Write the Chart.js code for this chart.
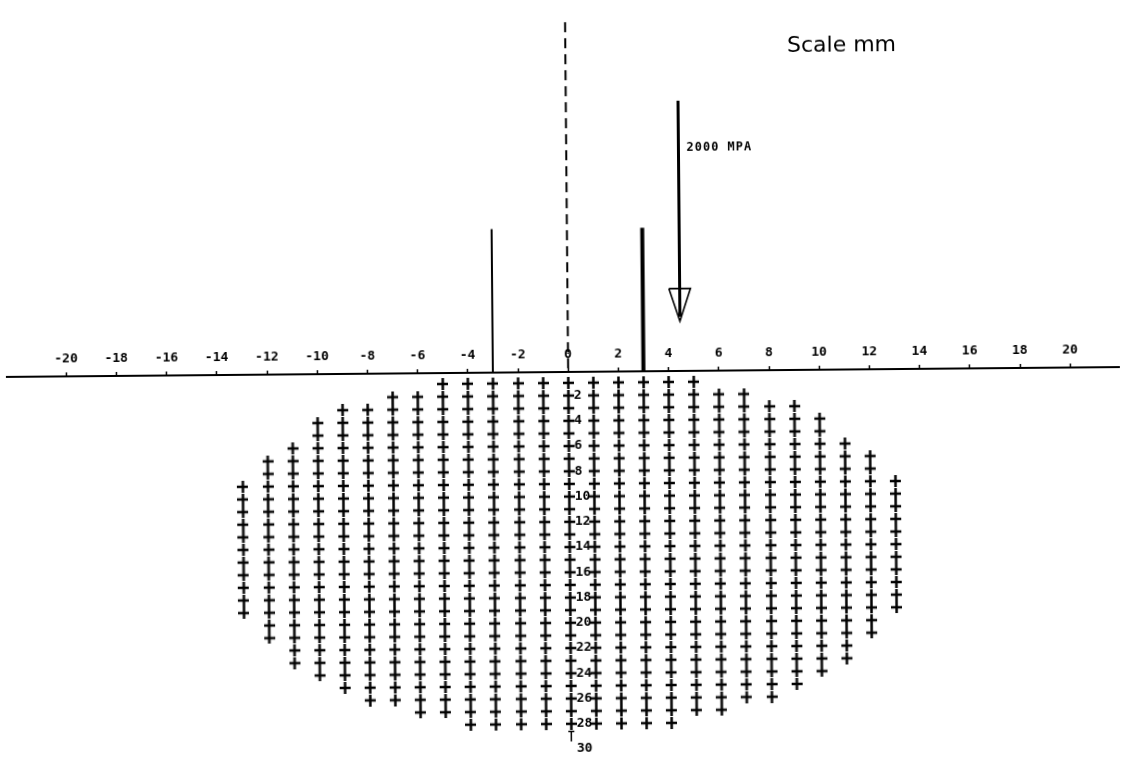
<!DOCTYPE html>
<html>
<head>
<meta charset="utf-8">
<title>Scale mm</title>
<script src="https://cdn.jsdelivr.net/npm/chart.js@4.4.1/dist/chart.umd.min.js"></script>
<style>
  html, body { margin: 0; padding: 0; background: #fff; overflow: hidden; }
  #wrap {
    width: 1126px; height: 766px; position: relative; background: #fff;
    /* the plotted sheet sits slightly skewed */
    transform: rotate(-0.507deg); transform-origin: 563px 383px;
  }
</style>
</head>
<body>
<div id="wrap"><canvas id="chart"></canvas></div>
<script>
// Horizontal position of each grid column (mm from the centre line)
const columns  = [-13,-12,-11,-10,-9,-8,-7,-6,-5,-4,-3,-2,-1,0,1,2,3,4,5,6,7,8,9,10,11,12,13];
// First and last depth row carrying a cross in each column
const firstRow = [9,7,6,4,3,3,2,2,1, 1,1,1,1,1,1,1,1,1, 1,2,2,3,3,4,6,7,9];
const lastRow  = [19,21,23,24,25,26,26,27,27, 28,28,28,28,28,28,28,28,28, 27,27,26,26,25,24,23,21,19];

// Axis tick labels
const xTickValues     = [-20,-18,-16,-14,-12,-10,-8,-6,-4,-2,0,2,4,6,8,10,12,14,16,18,20];
const depthTickValues = [2,4,6,8,10,12,14,16,18,20,22,24,26,28,30];

// Load lines above the surface (position in mm, height in MPa)
const loadLineX   = [-3, 3];
const loadLineMPa = [1300, 1300];
const loadLineWidth = [2, 4];
// Centre line and the 2000 MPa scale arrow
const centreLineTop = 3170;
const arrowX = 4.47;
const arrowFromMPa = 2450;
const arrowToMPa = 450;
const arrowLabel = '2000 MPA';
const scaleTitle = 'Scale mm';

// Axis ranges spanning the drawing sheet
const X_MIN = -22.36, X_MAX = 21.94;
const DEPTH_MIN = -28.71, DEPTH_MAX = 30.72;
const MPA_MIN = -3505, MPA_MAX = 3301;

// Plus-sign marker
function plusMark(w, h, lw) {
  const c = document.createElement('canvas');
  c.width = w; c.height = h;
  const g = c.getContext('2d');
  g.fillStyle = '#000';
  g.fillRect((w - lw) / 2, 0, lw, h);
  g.fillRect(0, (h - lw) / 2, w, lw);
  return c;
}

const gridPoints = [];
columns.forEach((x, i) => {
  for (let r = firstRow[i]; r <= lastRow[i]; r++) gridPoints.push({ x: x, y: r });
});

function segment(x, y0, y1) { return [{ x: x, y: y0 }, { x: x, y: y1 }]; }

const headLen = 295, headHalf = 0.43;
const arrowHead = [
  { x: arrowX - headHalf, y: arrowToMPa + headLen },
  { x: arrowX + headHalf, y: arrowToMPa + headLen },
  { x: arrowX, y: arrowToMPa },
  { x: arrowX - headHalf, y: arrowToMPa + headLen }
];

const lineBase = { type: 'scatter', showLine: true, pointRadius: 0, borderColor: '#000', fill: false, tension: 0 };

const datasets = [
  {
    label: 'grid',
    data: gridPoints,
    yAxisID: 'y',
    pointStyle: plusMark(11, 12, 2.5),
    pointRadius: 6,
    showLine: false
  },
  ...loadLineX.map((x, i) => Object.assign({}, lineBase, {
    label: 'load ' + x,
    data: segment(x, 0, loadLineMPa[i]),
    yAxisID: 'ys',
    borderWidth: loadLineWidth[i]
  })),
  Object.assign({}, lineBase, {
    label: 'centre',
    data: segment(0, centreLineTop, 0),
    yAxisID: 'ys',
    borderWidth: 2,
    borderDash: [10, 6]
  }),
  Object.assign({}, lineBase, {
    label: 'arrow',
    data: segment(arrowX, arrowFromMPa, arrowToMPa + 40),
    yAxisID: 'ys',
    borderWidth: 3
  }),
  Object.assign({}, lineBase, {
    label: 'arrow head',
    data: arrowHead,
    yAxisID: 'ys',
    borderWidth: 1.6
  }),
  Object.assign({}, lineBase, {
    label: 'depth end',
    data: [{ x: -0.12, y: 28.6 }, { x: 0.12, y: 28.6 }, { x: 0, y: 28.6 }, { x: 0, y: 29.4 }],
    yAxisID: 'y',
    borderWidth: 1.5
  })
];

// White sheet and free-standing captions
const captions = {
  id: 'captions',
  beforeDraw(chart) {
    const { ctx, width, height } = chart;
    ctx.save();
    ctx.fillStyle = '#fff';
    ctx.fillRect(0, 0, width, height);
    ctx.restore();
  },
  afterDatasetsDraw(chart) {
    const { ctx, scales } = chart;
    ctx.save();
    ctx.fillStyle = '#000';
    ctx.textBaseline = 'middle';
    ctx.textAlign = 'left';
    ctx.font = 'bold 12px "DejaVu Sans Mono"';
    if ('letterSpacing' in ctx) ctx.letterSpacing = '1px';
    ctx.fillText(arrowLabel, scales.x.getPixelForValue(arrowX) + 8, scales.ys.getPixelForValue(2020));
    if ('letterSpacing' in ctx) ctx.letterSpacing = '0px';
    ctx.textAlign = 'center';
    ctx.font = '22px "DejaVu Sans"';
    ctx.fillText(scaleTitle, chart.width * 0.75, 48);
    ctx.restore();
  }
};

new Chart(document.getElementById('chart'), {
  type: 'scatter',
  data: { datasets: datasets },
  plugins: [captions],
  options: {
    responsive: true,
    maintainAspectRatio: false,
    animation: false,
    events: [],
    layout: { padding: 0 },
    plugins: { legend: { display: false }, tooltip: { enabled: false } },
    scales: {
      x: {
        type: 'linear',
        min: X_MIN, max: X_MAX,
        position: { ys: 0 },
        afterFit: s => { s.height = 0; },
        afterBuildTicks: s => { s.ticks = xTickValues.map(v => ({ value: v })); },
        grid: { drawOnChartArea: false, drawTicks: true, tickLength: -5, tickWidth: 1.5, tickColor: '#000' },
        border: { display: true, color: '#000', width: 2 },
        ticks: {
          autoSkip: false, maxRotation: 0, padding: -19.5, color: '#000',
          font: { family: '"DejaVu Sans Mono"', size: 13, weight: 'bold' }
        }
      },
      y: {
        type: 'linear',
        reverse: true,
        min: DEPTH_MIN, max: DEPTH_MAX,
        position: { x: 0.84 },
        afterFit: s => { s.width = 0; },
        afterBuildTicks: s => { s.ticks = depthTickValues.map(v => ({ value: v })); },
        grid: { drawOnChartArea: false, drawTicks: false },
        border: { display: false },
        ticks: {
          autoSkip: false, padding: 0, color: '#000',
          font: { family: '"DejaVu Sans Mono"', size: 13, weight: 'bold' },
          callback: v => String(v).padEnd(2, ' ')
        }
      },
      ys: {
        type: 'linear',
        axis: 'y',
        min: MPA_MIN, max: MPA_MAX,
        display: false
      }
    }
  }
});
</script>
</body>
</html>
